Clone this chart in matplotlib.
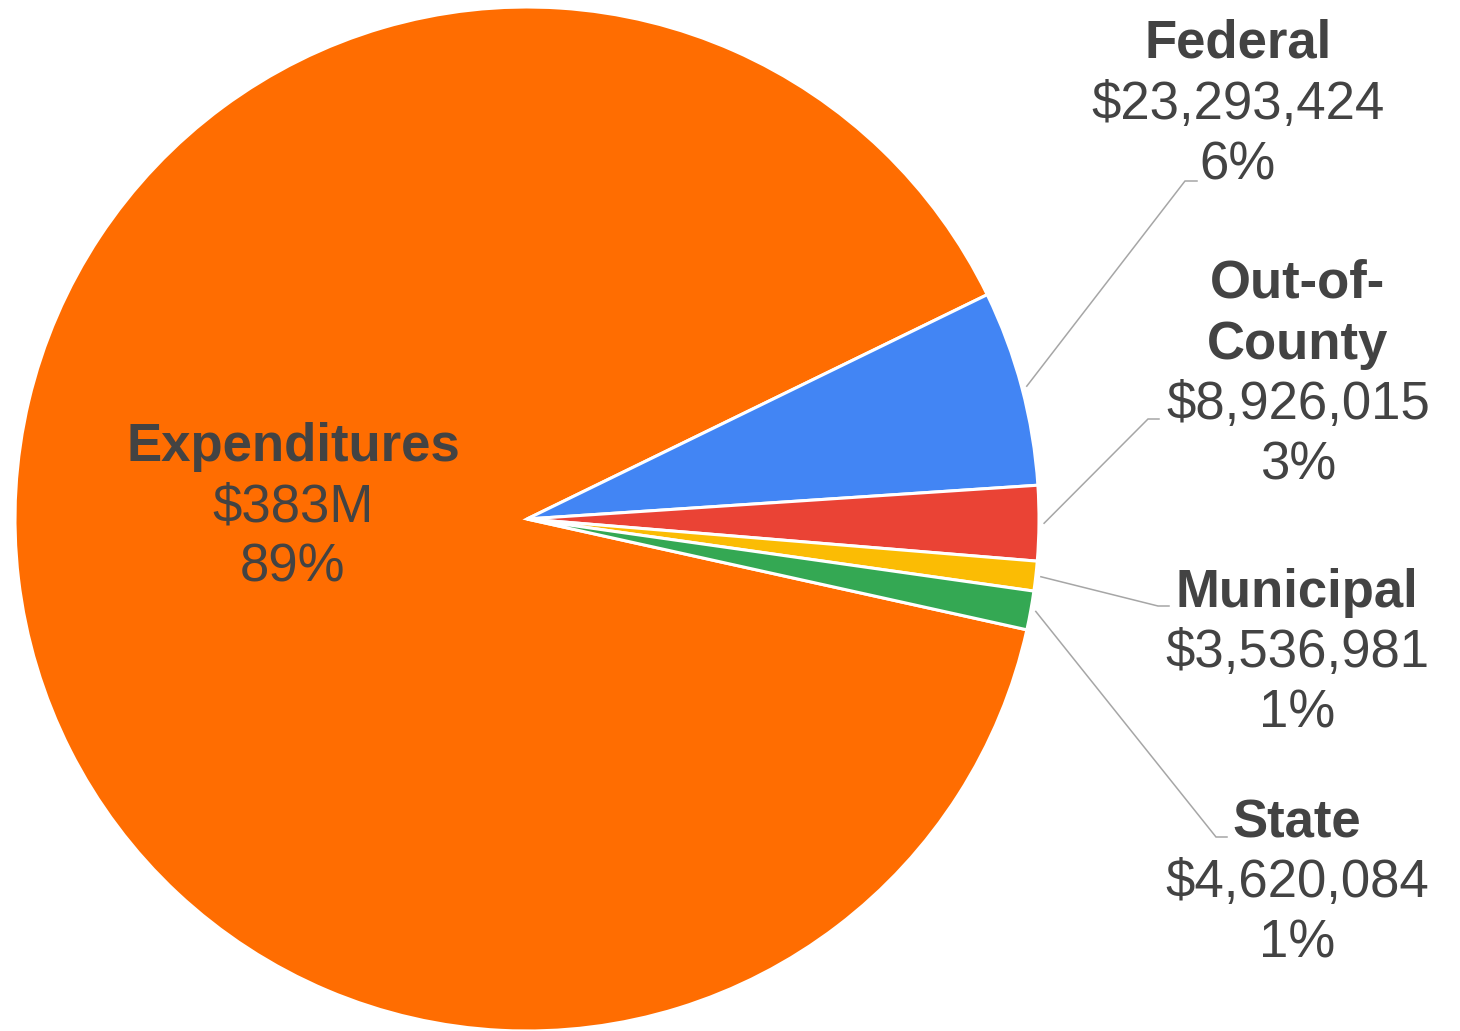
import numpy as np
import matplotlib
matplotlib.use('Agg')
import matplotlib.pyplot as plt

# slices, clockwise from the lower right edge of the big slice
names = ['Expenditures', 'Federal', 'Out-of-County', 'Municipal', 'State']
# the slice sizes as drawn (millions); the big slice is drawn smaller than its label says
slice_values = [337.3, 23.293424, 8.926015, 3.536981, 4.620084]
amount_labels = ['$383M', '$23,293,424', '$8,926,015', '$3,536,981', '$4,620,084']
percent_labels = ['89%', '6%', '3%', '1%', '1%']
title_lines = [['Expenditures'], ['Federal'], ['Out-of-', 'County'], ['Municipal'], ['State']]
colors = ['#FF6D01', '#4285F4', '#EA4335', '#FBBC04', '#34A853']

W, H = 1460, 1031
text_color = '#434343'
line_color = '#a6a6a6'
fs = 38

plt.rcParams['font.family'] = ['Liberation Sans', 'DejaVu Sans']

fig = plt.figure(figsize=(W / 100, H / 100), dpi=100)
ax = fig.add_axes([0, 0, 1, 1])

cx, cy, r = 527, H - 519, 512
wedges, _ = ax.pie(slice_values, colors=colors, startangle=-12.5, counterclock=False,
                   center=(cx, cy), radius=r,
                   wedgeprops=dict(edgecolor='white', linewidth=2.2))

ax.set_xlim(0, W)
ax.set_ylim(0, H)
ax.set_aspect('equal')
ax.axis('off')

# label layout (pixel positions, y from top): x centre and first baseline
label_x = [293, 1238, 1298, 1297, 1297]
first_base = [461, 58, 298, 607, 837]
step = 60.5

for i in range(len(names)):
    lines = [(t, 'bold') for t in title_lines[i]]
    lines += [(amount_labels[i], 'normal'), (percent_labels[i], 'normal')]
    base = first_base[i]
    for k, (txt, wt) in enumerate(lines):
        ax.text(label_x[i], H - (base + k * step), txt, ha='center', va='baseline',
                fontsize=fs, fontweight=wt, color=text_color)

# leader lines for the small slices: elbow point and end point (pixels, y from top)
elbows = {1: ((1185, 181), 1197), 2: ((1148, 419), 1159),
          3: ((1158, 606), 1169), 4: ((1216, 837), 1227)}
for i, ((ex, ey), endx) in elbows.items():
    w = wedges[i]
    mid = np.deg2rad((w.theta1 + w.theta2) / 2)
    sx = cx + r * 1.01 * np.cos(mid)
    sy = cy + r * 1.01 * np.sin(mid)
    ax.plot([sx, ex, endx], [sy, H - ey, H - ey], color=line_color, lw=1.1,
            solid_joinstyle='miter')

fig.savefig('out.png', dpi=100)
